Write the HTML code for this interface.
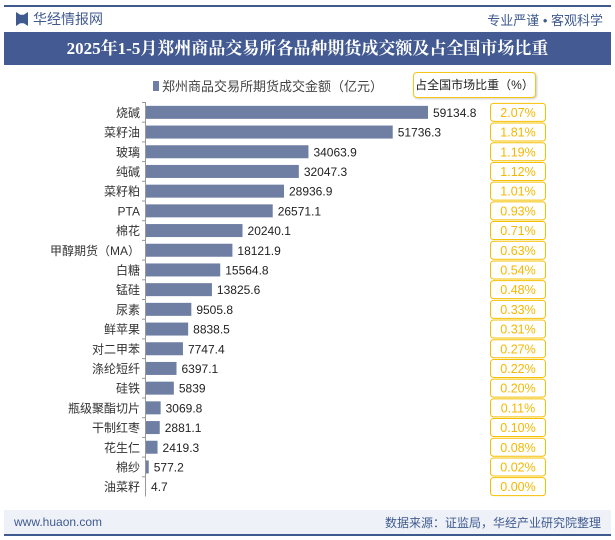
<!DOCTYPE html>
<html><head><meta charset="utf-8"><style>
body{margin:0;width:615px;height:540px;background:#fff;font-family:"Liberation Sans","Noto Sans CJK SC",sans-serif;overflow:hidden;position:relative}
.abs{position:absolute}
</style></head><body>
<div class="abs" style="left:4px;top:5px;width:607px;height:2px;background:#3f5a8f"></div>
<div class="abs" style="left:16px;top:12px;width:12px;height:14px;background:#3f5a8f;clip-path:polygon(0 0,35% 20%,65% 20%,100% 0,100% 100%,65% 80%,35% 80%,0 100%)"></div>
<div class="abs" style="left:33px;top:9px;font-size:14px;color:#3f5a8f">华经情报网</div>
<div class="abs" style="right:12px;top:10px;font-size:13px;color:#3f5a8f">专业严谨 • 客观科学</div>
<div class="abs" style="left:4px;top:32px;width:607px;height:33px;background:#435b92;color:#fff;font-family:'Liberation Serif','Noto Serif CJK SC',serif;font-weight:bold;font-size:17px;line-height:33px;text-align:center">2025年1-5月郑州商品交易所各品种期货成交额及占全国市场比重</div>
<div class="abs" style="left:153px;top:76px;font-size:13px;color:#444;white-space:nowrap"><span style="display:inline-block;width:6px;height:10px;background:#6f7fa3;margin-right:3px"></span>郑州商品交易所期货成交金额（亿元）</div>
<div class="abs" style="left:413px;top:72px;width:121px;height:24px;border:1px solid #f5c518;border-radius:4px;background:#fff;font-size:12px;line-height:24px;text-align:center;color:#222;white-space:nowrap;box-shadow:1px 1px 2px #ccc">占全国市场比重（%）</div>
<svg class="abs" style="left:0;top:0" width="615" height="540" id="chart"></svg>
<div class="abs" style="left:4px;top:510px;width:607px;height:24px;background:#eef1f8"></div>
<div class="abs" style="left:4px;top:534px;width:607px;height:2px;background:#3f5a8f"></div>
<div class="abs" style="left:14px;top:515px;font-size:12px;color:#3f5a8f">www.huaon.com</div>
<div class="abs" style="right:14px;top:514px;font-size:12px;color:#3f5a8f">数据来源：证监局，华经产业研究院整理</div>
<script>
const categories=["烧碱","菜籽油","玻璃","纯碱","菜籽粕","PTA","棉花","甲醇期货（MA）","白糖","锰硅","尿素","鲜苹果","对二甲苯","涤纶短纤","硅铁","瓶级聚酯切片","干制红枣","花生仁","棉纱","油菜籽"];
const values=[59134.8,51736.3,34063.9,32047.3,28936.9,26571.1,20240.1,18121.9,15564.8,13825.6,9505.8,8838.5,7747.4,6397.1,5839,3069.8,2881.1,2419.3,577.2,4.7];
const shares=[2.07,1.81,1.19,1.12,1.01,0.93,0.71,0.63,0.54,0.48,0.33,0.31,0.27,0.22,0.20,0.11,0.10,0.08,0.02,0.00];
const valueLabels=["59134.8","51736.3","34063.9","32047.3","28936.9","26571.1","20240.1","18121.9","15564.8","13825.6","9505.8","8838.5","7747.4","6397.1","5839","3069.8","2881.1","2419.3","577.2","4.7"];
const svg=document.getElementById('chart');const NS='http://www.w3.org/2000/svg';
const x0=146,x1=428,yTop=102.5,step=19.7;
const xs=v=>x0+(x1-x0)*v/Math.max(...values);
const yc=i=>yTop+step*(i+0.5);
function mk(t,a){const e=document.createElementNS(NS,t);for(const k in a)e.setAttribute(k,a[k]);svg.appendChild(e);return e;}
const ax=mk('line',{x1:x0-0.5,x2:x0-0.5,y1:yTop,y2:yTop+step*categories.length,stroke:'#999'});

categories.forEach((c,i)=>{
 const y=yc(i);
 const t=mk('text',{x:x0-6,y:y+4.5,'text-anchor':'end','font-size':12,fill:'#333'});t.textContent=c;
 
 const tk=mk('line',{x1:x0-4,x2:x0,y1:yTop+step*i,y2:yTop+step*i,stroke:'#999'});
 
 const b=mk('rect',{x:x0,y:y-6.5,width:Math.max(0,xs(values[i])-x0),height:13,fill:'#6f7fa3'});
 
 const v=mk('text',{x:xs(values[i])+5,y:y+4.5,'font-size':12,fill:'#222'});v.textContent=valueLabels[i];
 
 const r=mk('rect',{x:490.5,y:y-9,width:55,height:18,rx:3,fill:'#fff',stroke:'#f5c000'});
 
 const s=mk('text',{x:518,y:y+4.5,'text-anchor':'middle','font-size':12.5,fill:'#f5b800'});s.textContent=shares[i].toFixed(2)+'%';
 
});
</script>
</body></html>
